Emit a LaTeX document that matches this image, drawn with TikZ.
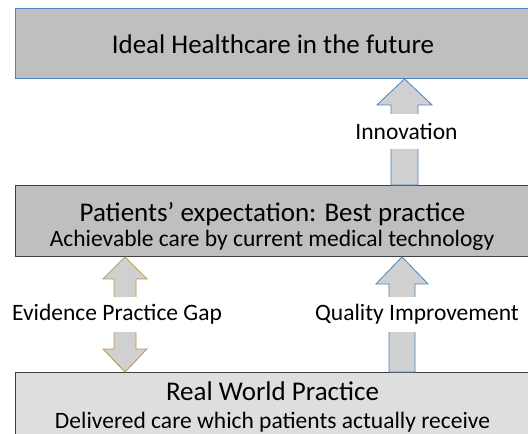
\documentclass[tikz,border=0pt]{standalone}
\usepackage{fontspec}
\setmainfont{Carlito}
\usetikzlibrary{calc}
\definecolor{boxfill}{HTML}{BFBFBF}
\definecolor{lightfill}{HTML}{DEDEDE}
\definecolor{arrowfill}{HTML}{D0D0D0}
\definecolor{blueline}{HTML}{4F81BD}
\definecolor{goldline}{HTML}{B8954A}
\definecolor{darkline}{HTML}{404040}
\tikzset{
  levelbox/.style={rectangle, inner sep=0pt, line width=0.9pt, minimum width=516, anchor=north west},
  bigtext/.style={anchor=base, inner sep=0pt, font=\fontsize{27}{30}\selectfont},
  smalltext/.style={anchor=base, inner sep=0pt, font=\fontsize{23.5}{27}\selectfont},
  gaplabel/.style={fill=white, inner sep=0pt, minimum height=35, font=\fontsize{23.5}{27}\selectfont},
  blockarrow/.style={fill=arrowfill, line width=0.8pt, line join=miter},
}
\begin{document}
\begin{tikzpicture}[x=1pt,y=-1pt]
\useasboundingbox (0,0) rectangle (528,434);
\clip (0,0) rectangle (528,434);

% the three levels
\node[levelbox, fill=boxfill, draw=blueline, minimum height=70] (ideal) at (15,8) {};
\node[levelbox, fill=boxfill, draw=darkline, minimum height=71] (best) at (15,185) {};
\node[levelbox, fill=lightfill, draw=darkline, minimum height=72] (real) at (15,372) {};

\node[bigtext] (idealT) at (273,53.3) {Ideal Healthcare in the future};
\node[bigtext] (bestT) at (272.5,221.7) {Patients’ expectation: Best practice};
\node[smalltext] (bestS) at (272,246.7) {Achievable care by current medical technology};
\node[bigtext] (realT) at (272.5,400.7) {Real World Practice};
\node[smalltext] (realS) at (272.5,428.5) {Delivered care which patients actually receive};

% anchor columns for the arrows
\coordinate (innoX) at (404.5,0);
\coordinate (qualX) at (402,0);
\coordinate (gapX) at (125,0);

% innovation: best practice -> ideal
\coordinate (innoTip) at (ideal.south -| innoX);
\coordinate (innoBase) at (best.north -| innoX);
\draw[blockarrow, draw=blueline]
  (innoTip) -- ($(innoTip)+(27.5,26)$) -- ($(innoTip)+(13.5,26)$) -- ($(innoBase)+(13.5,0)$) -- ($(innoBase)+(-13.5,0)$)
  -- ($(innoTip)+(-13.5,26)$) -- ($(innoTip)+(-27.5,26)$) -- cycle;
\node[gaplabel] (inno) at ($(innoTip)!0.5!(innoBase)+(2,0)$) {Innovation};

% quality improvement: real world -> best practice
\coordinate (qualTip) at (best.south -| qualX);
\coordinate (qualBase) at (real.north -| qualX);
\draw[blockarrow, draw=blueline]
  (qualTip) -- ($(qualTip)+(26,27)$) -- ($(qualTip)+(13,27)$) -- ($(qualBase)+(13,0)$) -- ($(qualBase)+(-13,0)$)
  -- ($(qualTip)+(-13,27)$) -- ($(qualTip)+(-26,27)$) -- cycle;
\node[gaplabel] (qual) at ($(qualTip)!0.5!(qualBase)+(15,0)$) {Quality Improvement};

% evidence practice gap: double arrow between the two lower levels
\coordinate (gapUp) at (best.south -| gapX);
\coordinate (gapDown) at (real.north -| gapX);
\draw[blockarrow, draw=goldline]
  (gapUp) -- ($(gapUp)+(22,22)$) -- ($(gapUp)+(11,22)$) -- ($(gapDown)+(11,-23)$) -- ($(gapDown)+(22,-23)$)
  -- (gapDown) -- ($(gapDown)+(-22,-23)$) -- ($(gapDown)+(-11,-23)$) -- ($(gapUp)+(-11,22)$)
  -- ($(gapUp)+(-22,22)$) -- cycle;
\node[gaplabel] (gap) at ($(gapUp)!0.5!(gapDown)+(-8,0)$) {Evidence Practice Gap};
\end{tikzpicture}
\end{document}
